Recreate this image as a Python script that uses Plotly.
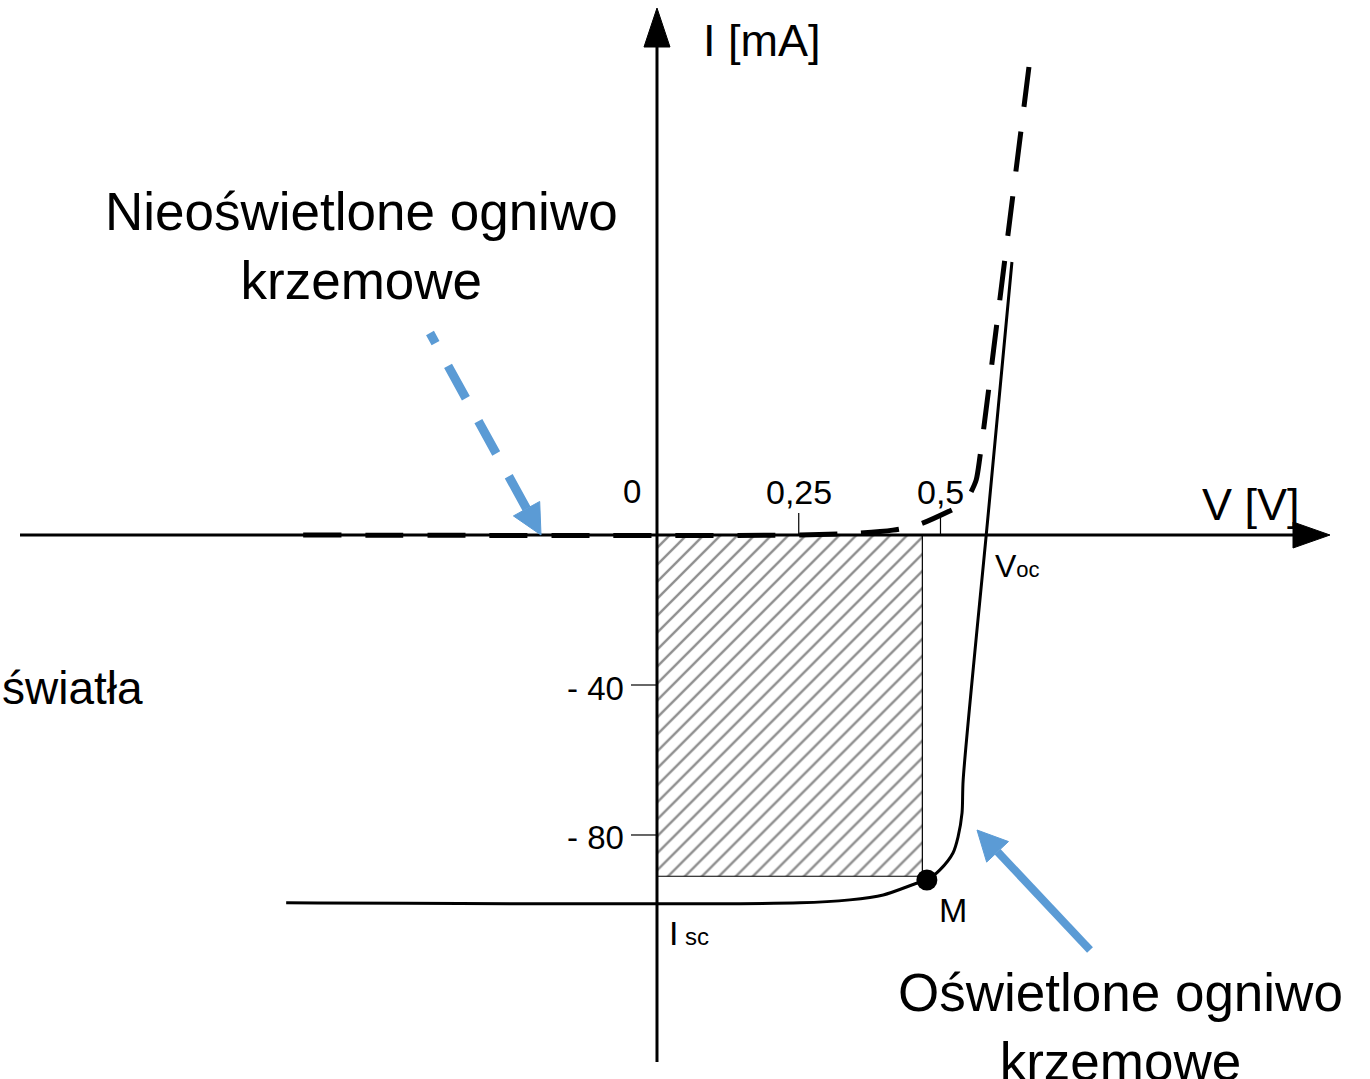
import math
import plotly.graph_objects as go

# ---------------- data ----------------
# dark (unlit) cell I-V characteristic  [V], [mA]
dark_v = [-0.624, 0.252, 0.353, 0.416, 0.460, 0.520, 0.554, 0.563, 0.570, 0.612, 0.656]
dark_i = [0.0, 0.0, 0.5, 1.3, 2.7, 6.7, 11.5, 14.7, 21.3, 71.7, 124.8]
DARK_SPLIT = 6  # knee: lower part drawn from the left, steep part drawn from the top

# illuminated cell I-V characteristic
light_v = [-0.654, 0.252, 0.340, 0.399, 0.459, 0.476, 0.499, 0.522, 0.531, 0.538, 0.540, 0.583, 0.626]
light_i = [-98.1, -98.1, -97.3, -96.0, -92.8, -92.0, -89.3, -84.8, -80.5, -74.1, -65.3, 3.7, 72.8]

# maximum power rectangle corner and point M
rect_v = [0.0, 0.468, 0.468, 0.0]
rect_i = [0.0, 0.0, -91.0, -91.0]
m_v = [0.476]
m_i = [-92.0]

# tick labels
xtick_vals = [0.25, 0.5]
xtick_text = ["0,25", "0,5"]
ytick_vals = [-40, -80]
ytick_text = ["- 40", "- 80"]

# ---------------- layout geometry ----------------
W, H = 1370, 1079
X_RANGE = [-1.1587, 1.2575]
Y_RANGE = [-145.07, 142.67]
KX = W / (X_RANGE[1] - X_RANGE[0])   # px per volt
KY = H / (Y_RANGE[1] - Y_RANGE[0])   # px per mA


def pv(px):  # pixel offset -> volts
    return px / KX


def pi_(px):  # pixel offset -> mA
    return px / KY


def head(tip_v, tip_i, from_v, from_i, length, half):
    # triangle arrow head computed in pixel space
    dx = (tip_v - from_v) * KX
    dy = (tip_i - from_i) * KY
    n = math.hypot(dx, dy)
    ux, uy = dx / n, dy / n
    bx, by = -ux * length, -uy * length
    px_, py_ = -uy * half, ux * half
    xs = [tip_v, tip_v + pv(bx + px_), tip_v + pv(bx - px_), tip_v]
    ys = [tip_i, tip_i + pi_(by + py_), tip_i + pi_(by - py_), tip_i]
    base = (tip_v + pv(bx), tip_i + pi_(by))
    return xs, ys, base


FONT = "Liberation Sans, Arial, sans-serif"
BLUE = "#5B9BD5"

fig = go.Figure()

# hatched rectangle (max power area)
fig.add_trace(go.Scatter(
    x=rect_v + [rect_v[0]], y=rect_i + [rect_i[0]], mode="lines",
    fill="toself", fillcolor="white",
    fillpattern=dict(shape="/", size=12, solidity=0.2, fgcolor="#1e1e1e", bgcolor="white"),
    line=dict(color="black", width=1.2), hoverinfo="skip", showlegend=False))

# axes
x_start = X_RANGE[0] + pv(20)
x_tip = X_RANGE[0] + pv(1330)
x_base = x_tip - pv(37)
y_bottom = Y_RANGE[0] + pi_(H - 1062)
y_tip = Y_RANGE[1] - pi_(8)
y_base = y_tip - pi_(39)

fig.add_trace(go.Scatter(x=[x_start, x_base], y=[0, 0], mode="lines",
                         line=dict(color="black", width=3), hoverinfo="skip", showlegend=False))
fig.add_trace(go.Scatter(x=[0, 0], y=[y_bottom, y_base], mode="lines",
                         line=dict(color="black", width=3), hoverinfo="skip", showlegend=False))
fig.add_trace(go.Scatter(x=[x_base, x_tip, x_base, x_base], y=[pi_(13), 0, -pi_(13), pi_(13)],
                         mode="lines", fill="toself", fillcolor="black",
                         line=dict(color="black", width=1), hoverinfo="skip", showlegend=False))
fig.add_trace(go.Scatter(x=[-pv(13), 0, pv(13), -pv(13)], y=[y_base, y_tip, y_base, y_base],
                         mode="lines", fill="toself", fillcolor="black",
                         line=dict(color="black", width=1), hoverinfo="skip", showlegend=False))

# tick marks
for v in xtick_vals:
    fig.add_trace(go.Scatter(x=[v, v], y=[0, pi_(22)], mode="lines",
                             line=dict(color="black", width=1.2), hoverinfo="skip", showlegend=False))
for i in ytick_vals:
    fig.add_trace(go.Scatter(x=[-pv(26), 0], y=[i, i], mode="lines",
                             line=dict(color="black", width=1.2), hoverinfo="skip", showlegend=False))

# illuminated curve
fig.add_trace(go.Scatter(x=light_v, y=light_i, mode="lines", line_shape="spline",
                         line=dict(color="black", width=3, smoothing=0.8),
                         hoverinfo="skip", showlegend=False))
# dark curve (dashed): lower part from the left, steep branch from its top end
fig.add_trace(go.Scatter(x=dark_v[:DARK_SPLIT], y=dark_i[:DARK_SPLIT], mode="lines", line_shape="spline",
                         line=dict(color="black", width=5, dash="38px,24px", smoothing=0.8),
                         hoverinfo="skip", showlegend=False))
fig.add_trace(go.Scatter(x=dark_v[DARK_SPLIT:][::-1], y=dark_i[DARK_SPLIT:][::-1], mode="lines",
                         line_shape="spline",
                         line=dict(color="black", width=5, dash="40px,25px", smoothing=0.8),
                         hoverinfo="skip", showlegend=False))
# point M
fig.add_trace(go.Scatter(x=m_v, y=m_i, mode="markers",
                         marker=dict(color="black", size=21), hoverinfo="skip", showlegend=False))

# blue arrows
a1_from = (X_RANGE[0] + pv(430), Y_RANGE[1] - pi_(333))
a1_tip = (X_RANGE[0] + pv(541), 0.0)
hx, hy, hb = head(a1_tip[0], a1_tip[1], a1_from[0], a1_from[1], 30, 15)
fig.add_trace(go.Scatter(x=[hb[0], a1_from[0]], y=[hb[1], a1_from[1]], mode="lines",
                         line=dict(color=BLUE, width=9, dash="37px,26px"),
                         hoverinfo="skip", showlegend=False))
fig.add_trace(go.Scatter(x=hx, y=hy, mode="lines", fill="toself", fillcolor=BLUE,
                         line=dict(color=BLUE, width=1), hoverinfo="skip", showlegend=False))

a2_from = (X_RANGE[0] + pv(1090), Y_RANGE[1] - pi_(950))
a2_tip = (X_RANGE[0] + pv(977), Y_RANGE[1] - pi_(830))
hx, hy, hb = head(a2_tip[0], a2_tip[1], a2_from[0], a2_from[1], 30, 15)
fig.add_trace(go.Scatter(x=[hb[0], a2_from[0]], y=[hb[1], a2_from[1]], mode="lines",
                         line=dict(color=BLUE, width=8),
                         hoverinfo="skip", showlegend=False))
fig.add_trace(go.Scatter(x=hx, y=hy, mode="lines", fill="toself", fillcolor=BLUE,
                         line=dict(color=BLUE, width=1), hoverinfo="skip", showlegend=False))

# ---------------- text ----------------
ann = []


def txt(x, y, text, size, xanchor="center", yanchor="middle", xshift=0, yshift=0):
    ann.append(dict(x=x, y=y, text=text, showarrow=False, xanchor=xanchor, yanchor=yanchor,
                    xshift=xshift, yshift=yshift, font=dict(family=FONT, size=size, color="black")))


txt(0, 0, "0", 33, xanchor="center", yanchor="middle", xshift=-25, yshift=44)
for v, t in zip(xtick_vals, xtick_text):
    txt(v, 0, t, 34, xanchor="center", yanchor="middle", xshift=0, yshift=43)
for i, t in zip(ytick_vals, ytick_text):
    txt(0, i, t, 33, xanchor="right", yanchor="middle", xshift=-31, yshift=-3)

txt(0, y_tip, "I [mA]", 45, xanchor="left", yanchor="middle", xshift=44, yshift=-32)
txt(x_tip, 0, "V [V]", 45, xanchor="right", yanchor="middle", xshift=-28, yshift=31)

txt(X_RANGE[0] + pv(361), Y_RANGE[1] - pi_(246), "Nieoświetlone ogniwo<br>krzemowe", 53)
txt(X_RANGE[0] + pv(1120), Y_RANGE[1] - pi_(1027), "Oświetlone ogniwo<br>krzemowe", 53)
txt(X_RANGE[0], Y_RANGE[1] - pi_(688), "światła", 46, xanchor="left")

txt(light_v[-2], 0, "V<span style='font-size:22px'>oc</span>", 32, xanchor="left", yshift=-31, xshift=5)
txt(0, light_i[0], "I<span style='font-size:24px'> sc</span>", 34, xanchor="left", yshift=-30, xshift=10)
txt(m_v[0], m_i[0], "M", 34, xanchor="left", yshift=-30, xshift=10)

fig.update_layout(
    width=W, height=H, margin=dict(l=0, r=0, t=0, b=0),
    paper_bgcolor="white", plot_bgcolor="white",
    xaxis=dict(range=X_RANGE, visible=False, fixedrange=True),
    yaxis=dict(range=Y_RANGE, visible=False, fixedrange=True),
    annotations=ann, showlegend=False,
)

fig.write_html("out.html", config={"displayModeBar": False},
               post_script="document.body.style.margin='0';document.body.style.overflow='hidden';")
